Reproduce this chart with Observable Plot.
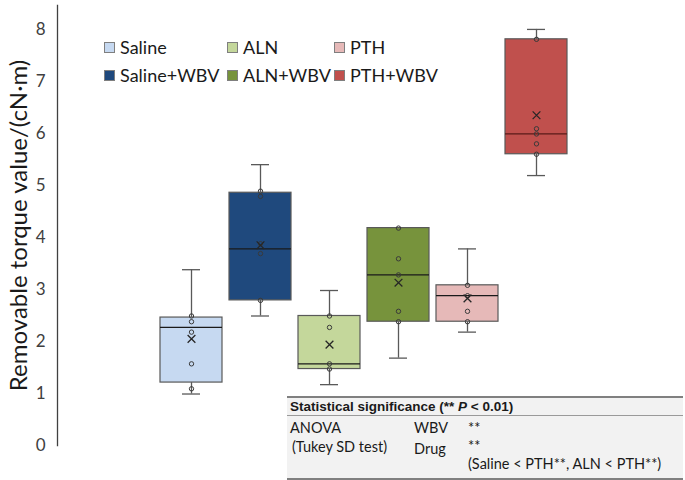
<!DOCTYPE html>
<html>
<head>
<meta charset="utf-8">
<script src="https://cdn.jsdelivr.net/npm/d3@7"></script>
<script src="https://cdn.jsdelivr.net/npm/@observablehq/plot@0.6"></script>
<style>
  html, body { margin: 0; padding: 0; background: #fff; }
  #wrap { position: relative; width: 685px; height: 480px; overflow: hidden; font-family: Lato, "Open Sans", sans-serif; }
  #wrap svg { position: absolute; left: 0; top: 0; }
  .leg { position: absolute; font-size: 18px; color: #1a1a1a; white-space: nowrap; line-height: 20px; }
  .leg .sw { display: inline-block; width: 9px; height: 9px; border: 1px solid #7f7f7f; margin-right: 5px; vertical-align: 1px; }
  #table { position: absolute; left: 287px; top: 396px; width: 396px; height: 80px; background: #f2f2f2;
           border-top: 2px solid #808080; border-bottom: 2px solid #808080; font-family: Lato, "Open Sans", sans-serif; color: #1a1a1a; }
  #table .hdr { height: 17px; border-bottom: 1px solid #9a9a9a; font-family: "Liberation Sans", Arial, sans-serif; font-weight: bold; font-size: 13.5px; line-height: 17px; padding-left: 3px; }
  #table .c { position: absolute; font-size: 14.5px; white-space: nowrap; }
</style>
</head>
<body>
<div id="wrap"></div>
<script>
const groups = ["Saline", "Saline+WBV", "ALN", "ALN+WBV", "PTH", "PTH+WBV"];
const colors = ["#c6d9f1", "#1f497d", "#c4d79b", "#77933c", "#e6b9b8", "#c0504d"];
const whiskerLow  = [0.99, 2.49, 1.17, 1.68, 2.18, 5.19];
const q1          = [1.21, 2.79, 1.47, 2.38, 2.38, 5.60];
const median      = [2.27, 3.78, 1.57, 3.28, 2.88, 5.99];
const q3          = [2.46, 4.86, 2.49, 4.18, 3.08, 7.81];
const whiskerHigh = [3.38, 5.40, 2.98, 4.18, 3.78, 8.00];
const means       = [2.05, 3.85, 1.94, 3.13, 2.83, 6.35];
const points = {
  "Saline":     [2.49, 2.38, 2.18, 1.57, 1.09],
  "Saline+WBV": [4.89, 4.79, 3.88, 3.69, 2.79],
  "ALN":        [2.49, 2.27, 1.57, 1.47],
  "ALN+WBV":    [4.18, 3.59, 3.28, 2.58, 2.38],
  "PTH":        [3.08, 2.88, 2.58, 2.38],
  "PTH+WBV":    [7.81, 6.09, 5.99, 5.80, 5.60]
};
const yTicks = [0, 1, 2, 3, 4, 5, 6, 7, 8];
const yLabel = "Removable torque value/(cN·m)";

const stats = groups.map((g, i) => ({
  g, color: colors[i], lo: whiskerLow[i], q1: q1[i], med: median[i], q3: q3[i], hi: whiskerHigh[i], mean: means[i]
}));
const pts = groups.flatMap(g => points[g].map(v => ({g, v})));
const medColor = g => g === "PTH+WBV" ? "#5a1a18" : "#1a1a1a";

const chart = Plot.plot({
  width: 685,
  height: 480,
  marginLeft: 57,
  marginRight: 0,
  marginTop: 5,
  marginBottom: 35,
  style: { fontFamily: "Lato, 'Open Sans', sans-serif", background: "transparent" },
  x: { domain: groups, range: [153, 574], padding: 0.1, axis: null },
  y: { domain: [0, 8.46], ticks: yTicks },
  marks: [
    Plot.axisY({ ticks: yTicks, tickSize: 0, tickPadding: 12, fontSize: 17, color: "#404040", label: null }),
    Plot.axisY({ ticks: [], tickSize: 0, fontSize: 24, color: "#1a1a1a",
                 label: yLabel, labelAnchor: "center", labelArrow: "none", labelOffset: 48 }),
    Plot.frame({ anchor: "left", stroke: "#404040", strokeWidth: 1.3 }),
    Plot.ruleX(stats, { x: "g", y1: "q3", y2: "hi", stroke: "#595959", strokeWidth: 1.3 }),
    Plot.ruleX(stats, { x: "g", y1: "lo", y2: "q1", stroke: "#595959", strokeWidth: 1.3 }),
    Plot.tickY(stats, { x: "g", y: "hi", stroke: "#595959", strokeWidth: 1.3, insetLeft: 22, insetRight: 22 }),
    Plot.tickY(stats, { x: "g", y: "lo", stroke: "#595959", strokeWidth: 1.3, insetLeft: 22, insetRight: 22 }),
    Plot.barY(stats, { x: "g", y1: "q1", y2: "q3", fill: "color", stroke: "#595959", strokeWidth: 1.2 }),
    Plot.tickY(stats, { x: "g", y: "med", stroke: d => medColor(d.g), strokeWidth: 1.3 }),
    Plot.dot(pts, { x: "g", y: "v", r: 2.2, stroke: "#3a3a3a", strokeWidth: 1, fill: "none" }),
    Plot.dot(stats, { x: "g", y: "mean", symbol: "times", r: 3.6, stroke: "#262626", strokeWidth: 1.3 })
  ]
});

const wrap = document.getElementById("wrap");
wrap.appendChild(chart);

// Legend (inside the plot area)
const legCols = [104, 227, 334];
const legRows = [37, 65];
groups.forEach((g, i) => {
  const col = Math.floor(i / 2), row = i % 2;
  const d = document.createElement("div");
  d.className = "leg";
  d.style.left = legCols[col] + "px";
  d.style.top = legRows[row] + "px";
  d.innerHTML = `<span class="sw" style="background:${colors[i]}"></span>${g}`;
  wrap.appendChild(d);
});

// Statistical significance table
const tbl = document.createElement("div");
tbl.id = "table";
tbl.innerHTML = `
  <div class="hdr">Statistical significance (** <i>P</i> &lt; 0.01)</div>
  <div class="c" style="left:3px; top:21px;">ANOVA</div>
  <div class="c" style="left:5px; top:40px;">(Tukey SD test)</div>
  <div class="c" style="left:127px; top:21px;">WBV</div>
  <div class="c" style="left:127px; top:42px;">Drug</div>
  <div class="c" style="left:181px; top:21px;">**</div>
  <div class="c" style="left:181px; top:39px;">**</div>
  <div class="c" style="left:181px; top:57px;">(Saline &lt; PTH**, ALN &lt; PTH**)</div>
`;
wrap.appendChild(tbl);
</script>
</body>
</html>
